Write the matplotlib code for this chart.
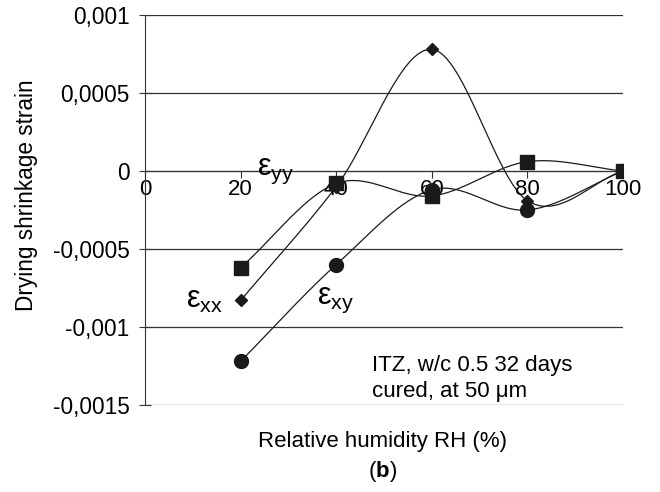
import numpy as np
import matplotlib
matplotlib.use("Agg")
import matplotlib.pyplot as plt

plt.rcParams['font.family'] = ['Liberation Sans', 'DejaVu Sans']
plt.rcParams['mathtext.fontset'] = 'custom'
plt.rcParams['mathtext.rm'] = 'Liberation Sans'
plt.rcParams['mathtext.it'] = 'Liberation Sans'
plt.rcParams['mathtext.bf'] = 'Liberation Sans:bold'

rh = [20, 40, 60, 80, 100]
eps_yy = [-0.00062, -0.00008, -0.00016, 0.00006, 0.0]
eps_xx = [-0.00083, -0.00010, 0.00078, -0.00019, 0.0]
eps_xy = [-0.00122, -0.00060, -0.00012, -0.00025, 0.0]
yticks = [0.001, 0.0005, 0, -0.0005, -0.001, -0.0015]
ytick_labels = ['0,001', '0,0005', '0', '-0,0005', '-0,001', '-0,0015']
xticks = [0, 20, 40, 60, 80, 100]


def smooth(x, y, n=40):
    # Catmull-Rom style smoothing like spreadsheet "smoothed line"
    x = np.asarray(x, float); y = np.asarray(y, float)
    px = np.concatenate([[2 * x[0] - x[1]], x, [2 * x[-1] - x[-2]]])
    py = np.concatenate([[2 * y[0] - y[1]], y, [2 * y[-1] - y[-2]]])
    xs, ys = [], []
    t = np.linspace(0, 1, n)
    for i in range(1, len(px) - 2):
        p0, p1, p2, p3 = (np.array([px[j], py[j]]) for j in range(i - 1, i + 3))
        m1 = (p2 - p0) / 2
        m2 = (p3 - p1) / 2
        h00 = 2 * t**3 - 3 * t**2 + 1
        h10 = t**3 - 2 * t**2 + t
        h01 = -2 * t**3 + 3 * t**2
        h11 = t**3 - t**2
        pts = np.outer(h00, p1) + np.outer(h10, m1) + np.outer(h01, p2) + np.outer(h11, m2)
        xs.extend(pts[:, 0]); ys.extend(pts[:, 1])
    return np.array(xs), np.array(ys)


fig = plt.figure(figsize=(6.6, 4.92), dpi=100)
ax = fig.add_axes([0.2197, 0.1768, 0.7243, 0.7927])

col = '#1a1a1a'
for ys, mk, ms in [(eps_yy, 's', 9.5), (eps_xx, 'D', 6.5), (eps_xy, 'o', 10)]:
    sx, sy = smooth(rh, ys)
    ax.plot(sx, sy, color=col, lw=0.9, zorder=3)
    ax.plot(rh, ys, linestyle='none', marker=mk, ms=ms, color=col, zorder=4)

ax.set_xlim(0, 100)
ax.set_ylim(-0.0015, 0.001)
ax.set_yticks(yticks)
ax.set_yticklabels(ytick_labels, fontsize=16.3)
for y in yticks:
    ax.axhline(y, color='#333333', lw=0.9, zorder=1)

ax.spines['top'].set_visible(False)
ax.spines['right'].set_visible(False)
ax.spines['bottom'].set_position(('data', 0))
ax.spines['bottom'].set_color('#333333')
ax.spines['left'].set_color('#333333')
ax.set_xticks(xticks)
ax.set_xticklabels([str(v) for v in xticks], fontsize=16)
ax.tick_params(axis='x', direction='out', length=5, color='#333333', pad=0.5)
ax.tick_params(axis='y', direction='inout', length=8, color='#333333', pad=7)

ax.set_ylabel('Drying shrinkage strain', fontsize=16.3)
ax.yaxis.set_label_coords(-0.224, 0.538)
fig.text(0.579, 0.103, 'Relative humidity RH (%)', ha='center', va='center', fontsize=16)
fig.text(0.579, 0.042, r'($\mathbf{b}$)', ha='center', va='center', fontsize=16)

ax.text(23.5, -0.00000, r'$\mathregular{\varepsilon_{yy}}$', fontsize=22, ha='left', va='center')
ax.text(8.5, -0.00083, r'$\mathregular{\varepsilon_{xx}}$', fontsize=22, ha='left', va='center')
ax.text(36, -0.00083, r'$\mathregular{\varepsilon_{xy}}$', fontsize=22, ha='left', va='center')
ax.text(47.5, -0.00133, 'ITZ, w/c 0.5 32 days\ncured, at 50 \u03bcm', fontsize=16,
        ha='left', va='center', linespacing=1.3)

fig.savefig('out.png', dpi=100)
